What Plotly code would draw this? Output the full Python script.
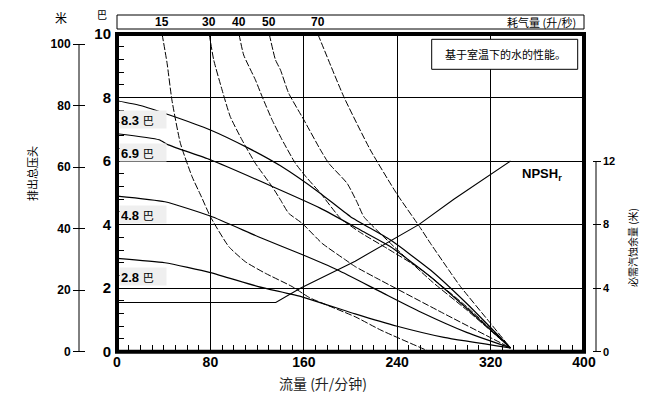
import plotly.graph_objects as go

W, H = 669, 398

# ---------------- data (flow in L/min, head in bar unless noted) ----------------
flow_p83 = [0, 20, 45, 80, 113, 140, 174, 200, 234, 268.5, 300, 337]
head_p83 = [7.9, 7.75, 7.45, 6.98, 6.4, 5.85, 4.99, 4.25, 3.52, 2.57, 1.5, 0.12]

flow_p69 = [0, 36, 44, 80, 133, 174, 208.5, 234, 268.5, 300, 337]
head_p69 = [6.86, 6.67, 6.51, 6.04, 5.2, 4.52, 3.83, 3.31, 2.36, 1.35, 0.12]

flow_p48 = [0, 41, 80, 121, 159, 189, 225, 260, 300, 337]
head_p48 = [4.9, 4.72, 4.27, 3.62, 3.05, 2.57, 1.9, 1.25, 0.6, 0.12]

flow_p28 = [0, 41, 80, 121, 159, 204, 240, 280, 337]
head_p28 = [2.94, 2.8, 2.49, 2.05, 1.72, 1.19, 0.8, 0.45, 0.12]

pressure_labels = ["8.3", "6.9", "4.8", "2.8"]

flow_a15 = [38.6, 42.9, 47, 54.3, 64.3, 72, 80, 95.7, 110, 127, 150, 165, 204, 226, 268]
head_a15 = [10, 9.08, 7.93, 6.56, 5.51, 4.9, 4.25, 3.31, 2.83, 2.47, 2.05, 1.7, 1.1, 0.68, 0]

flow_a30 = [79, 82.8, 90, 97, 107, 118.5, 132.8, 140, 147, 158.6, 175.7, 195.7, 204, 220, 280, 337]
head_a30 = [10, 9.19, 8.24, 7.4, 6.67, 5.93, 5.2, 4.78, 4.36, 4.04, 3.41, 2.89, 2.68, 2.36, 1.2, 0.12]

flow_a40 = [104.5, 108.5, 118.5, 124.3, 132.8, 141.4, 152.8, 162, 174.3, 191.4, 208.5, 231.4, 260, 300, 337]
head_a40 = [10, 9.34, 8.56, 8.03, 7.3, 6.67, 5.93, 5.5, 4.99, 4.2, 3.75, 3.25, 2.6, 1.4, 0.12]

flow_a50 = [130.4, 135.7, 140, 147, 160, 174.3, 181.4, 197.1, 205.7, 211.4, 234.3, 270, 300, 337]
head_a50 = [10, 9.19, 8.87, 8.14, 7.3, 6.35, 5.93, 5.3, 4.7, 4.25, 3.41, 2.2, 1.3, 0.12]

flow_a70 = [172, 194.2, 217, 240, 258.5, 268.5, 284.2, 294.2, 320, 337]
head_a70 = [10, 8.03, 6.35, 4.95, 3.97, 3.41, 2.57, 2.05, 0.89, 0.12]

air_labels = ["15", "30", "40", "50", "70"]

# NPSHr in metres
flow_npsh = [0, 136, 157, 204, 258.5, 288.5, 337]
npsh_m = [3.1, 3.1, 4.0, 5.7, 8.0, 9.6, 12.0]

x_ticks = [0, 80, 160, 240, 320, 400]
bar_ticks = [0, 2, 4, 6, 8, 10]
metre_ticks = [0, 20, 40, 60, 80, 100]
npsh_ticks = [0, 4, 8, 12]

# ---------------- layout geometry ----------------
XL, XR = 117 / W, 584 / W
YB, YT = (H - 351.7) / H, (H - 34) / H

fig = go.Figure()

pressure_series = [(flow_p83, head_p83), (flow_p69, head_p69),
                   (flow_p48, head_p48), (flow_p28, head_p28)]
air_series = [(flow_a15, head_a15), (flow_a30, head_a30), (flow_a40, head_a40),
              (flow_a50, head_a50), (flow_a70, head_a70)]

for fx, hy in air_series:
    fig.add_trace(go.Scatter(x=fx, y=hy, mode="lines",
                             line=dict(color="black", width=1, dash="7px,2px",
                                       shape="spline", smoothing=0.5),
                             hoverinfo="skip", showlegend=False))
for fx, hy in pressure_series:
    fig.add_trace(go.Scatter(x=fx, y=hy, mode="lines",
                             line=dict(color="black", width=1.2,
                                       shape="spline", smoothing=0.5),
                             hoverinfo="skip", showlegend=False))

fig.add_trace(go.Scatter(x=flow_npsh, y=npsh_m, mode="lines", yaxis="y3",
                         line=dict(color="black", width=1.1),
                         hoverinfo="skip", showlegend=False))
# anchor trace for metre axis
fig.add_trace(go.Scatter(x=[0], y=[0], yaxis="y2", mode="markers",
                         marker=dict(opacity=0, size=1), hoverinfo="skip", showlegend=False))

numfont = dict(family="Liberation Sans, Arial, sans-serif", color="black")
cjk = "Noto Sans CJK SC"

fig.update_layout(
    width=W, height=H,
    margin=dict(l=0, r=0, t=0, b=0, autoexpand=False),
    plot_bgcolor="white", paper_bgcolor="white",
    showlegend=False,
    xaxis=dict(domain=[XL, XR], range=[0, 400], tickvals=x_ticks,
               ticktext=[f"<b>{v}</b>" for v in x_ticks],
               ticks="inside", ticklen=7, tickcolor="black", automargin=False,
               minor=dict(ticks="inside", dtick=10, ticklen=7, tickcolor="black", showgrid=False),
               showgrid=True, gridcolor="black", gridwidth=1, zeroline=False,
               showline=False, tickfont=dict(size=14, **numfont)),
    yaxis=dict(domain=[YB, YT], range=[0, 10], tickvals=bar_ticks,
               ticktext=[f"<b>{v}</b>" for v in bar_ticks],
               ticks="inside", ticklen=7, tickcolor="black", automargin=False,
               ticklabelstandoff=5,
               minor=dict(ticks="inside", dtick=0.4, ticklen=7, tickcolor="black", showgrid=False),
               showgrid=True, gridcolor="black", gridwidth=1, zeroline=False,
               showline=False, tickfont=dict(size=15, **numfont)),
    yaxis2=dict(domain=[YB, YT], overlaying="y", anchor="free", position=85 / W,
                side="left", range=[0, 100 * 317.7 / 307.7], tickvals=metre_ticks,
                ticktext=[f"<b>{v}</b>" for v in metre_ticks], automargin=False,
                ticks="outside", ticklen=12, tickcolor="black",
                showgrid=False, zeroline=False, showline=False,
                tickfont=dict(size=12, **numfont)),
    yaxis3=dict(domain=[YB, YT], overlaying="y", anchor="free", position=591.7 / W,
                side="right", range=[0, 20], tickvals=npsh_ticks,
                ticktext=[f"<b>{v}</b>" for v in npsh_ticks], automargin=False,
                ticks="outside", ticklen=8, tickcolor="black",
                showgrid=False, zeroline=False, showline=False,
                tickfont=dict(size=11, **numfont)),
)

shapes = [
    # thick frame
    dict(type="rect", xref="paper", yref="paper", x0=XL, x1=XR, y0=YB, y1=YT,
         line=dict(color="black", width=4), layer="above"),
    # metre axis line
    dict(type="line", xref="paper", yref="y2", x0=79 / W, x1=79 / W, y0=0, y1=100,
         line=dict(color="black", width=1)),
    # NPSH axis line
    dict(type="line", xref="paper", yref="y3", x0=596 / W, x1=596 / W, y0=0, y1=12,
         line=dict(color="black", width=1)),
    # air consumption strip
    dict(type="rect", xref="paper", yref="paper", x0=XL, x1=XR,
         y0=(H - 29) / H, y1=(H - 15) / H, line=dict(color="black", width=1)),
    # note box
    dict(type="rect", xref="paper", yref="paper", x0=431.7 / W, x1=577.7 / W,
         y0=(H - 69.3) / H, y1=(H - 39.3) / H, line=dict(color="black", width=1),
         fillcolor="white", layer="above"),
]

C = dict(xanchor="center", yanchor="middle", showarrow=False)

ann = []
# air consumption labels at curve starts
for lbl, (fx, hy) in zip(air_labels, air_series):
    ann.append(dict(x=fx[0], y=(H - 22) / H, xref="x", yref="paper", text=f"<b>{lbl}</b>",
                    font=dict(size=12, **numfont), **C))
ann.append(dict(x=578 / W, y=(H - 22) / H, xref="paper", yref="paper",
                text="耗气量 (升/秒)", showarrow=False, xanchor="right", yanchor="middle",
                font=dict(size=11, family=cjk, color="black")))
# pressure labels
for lbl, (fx, hy) in zip(pressure_labels, pressure_series):
    ann.append(dict(x=2, y=hy[0] - 0.58, xref="x", yref="y",
                    text=f"<b>{lbl}</b> <span style='font-family:{cjk};font-size:11px'>巴</span>",
                    showarrow=False, xanchor="left", yanchor="middle", align="left",
                    bgcolor="#efefef", width=44, height=15,
                    font=dict(size=13, **numfont)))
ann += [
    dict(x=102 / W, y=(H - 15) / H, xref="paper", yref="paper", text="巴",
         font=dict(size=10, family=cjk, color="black"), **C),
    dict(x=61 / W, y=(H - 18) / H, xref="paper", yref="paper", text="米",
         font=dict(size=12, family=cjk, color="black"), **C),
    dict(x=505 / W, y=(H - 54) / H, xref="paper", yref="paper", text="基于室温下的水的性能。",
         font=dict(size=11, family=cjk, color="black"), **C),
    dict(x=520 / W, y=(H - 175) / H, xref="paper", yref="paper", text="<b>NPSH<sub>r</sub></b>",
         showarrow=False, xanchor="left", yanchor="middle", font=dict(size=13, **numfont)),
    dict(x=323 / W, y=(H - 383) / H, xref="paper", yref="paper", text="流量 (升/分钟)",
         font=dict(size=14, family=cjk, color="#222"), **C),
    dict(x=32 / W, y=(H - 174) / H, xref="paper", yref="paper", text="排出总压头",
         textangle=-90, font=dict(size=11, family=cjk, color="black"), **C),
    dict(x=632 / W, y=(H - 248) / H, xref="paper", yref="paper", text="必需汽蚀余量 (米)",
         textangle=-90, font=dict(size=10, family=cjk, color="black"), **C),
]

fig.update_layout(shapes=shapes, annotations=ann)
fig.write_html("out.html", config={"displayModeBar": False},
               post_script="document.body.style.margin='0';document.body.style.overflow='hidden';")
